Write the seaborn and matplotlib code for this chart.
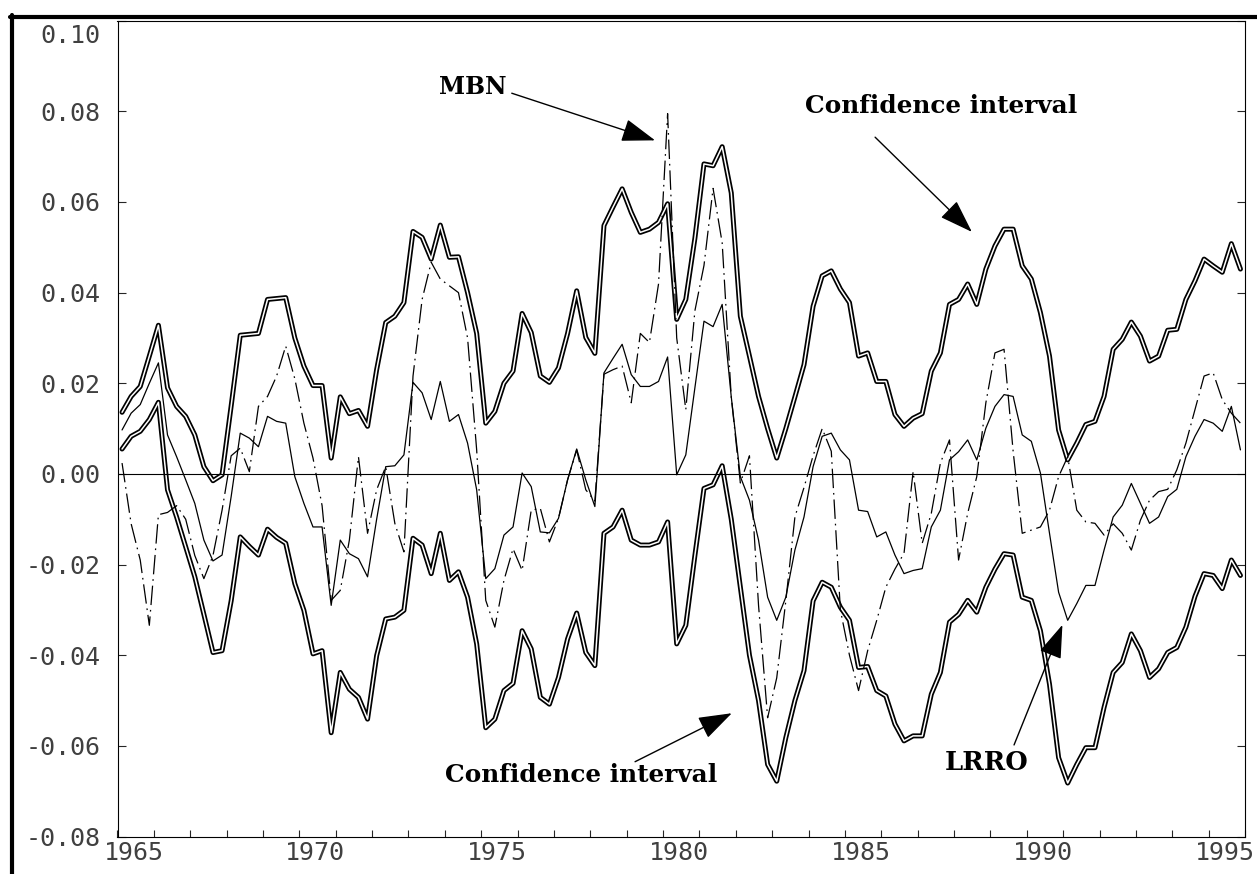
import numpy as np
import pandas as pd
import matplotlib
matplotlib.use('Agg')
import matplotlib.pyplot as plt
import matplotlib.transforms as mtransforms
from matplotlib.lines import Line2D
import seaborn as sns

# quarterly observations 1965Q1 - 1995Q4 (plotted at mid-quarter)
quarters = pd.period_range('1965Q1', '1995Q4', freq='Q')

upper_ci = [
    0.0136, 0.0171, 0.0193, 0.0260, 0.0328, 0.0190, 0.0149, 0.0127, 0.0086, 0.0016,
    -0.0015, -0.0002, 0.0150, 0.0306, 0.0308, 0.0310, 0.0385, 0.0387, 0.0389, 0.0300,
    0.0238, 0.0195, 0.0195, 0.0035, 0.0170, 0.0133, 0.0140, 0.0105, 0.0230, 0.0334,
    0.0348, 0.0378, 0.0535, 0.0522, 0.0474, 0.0549, 0.0478, 0.0479, 0.0400, 0.0310,
    0.0112, 0.0138, 0.0200, 0.0227, 0.0354, 0.0312, 0.0216, 0.0202, 0.0234, 0.0310,
    0.0404, 0.0301, 0.0266, 0.0548, 0.0589, 0.0629, 0.0577, 0.0533, 0.0540, 0.0555,
    0.0596, 0.0341, 0.0385, 0.0520, 0.0684, 0.0680, 0.0722, 0.0620, 0.0348, 0.0260,
    0.0171, 0.0100, 0.0035, 0.0100, 0.0170, 0.0241, 0.0370, 0.0437, 0.0448, 0.0408,
    0.0378, 0.0260, 0.0267, 0.0204, 0.0204, 0.0131, 0.0105, 0.0123, 0.0133, 0.0227,
    0.0267, 0.0374, 0.0385, 0.0419, 0.0374, 0.0452, 0.0503, 0.0540, 0.0540, 0.0459,
    0.0430, 0.0356, 0.0260, 0.0097, 0.0031, 0.0068, 0.0109, 0.0116, 0.0171, 0.0275,
    0.0297, 0.0335, 0.0304, 0.0249, 0.0260, 0.0317, 0.0319, 0.0385, 0.0426, 0.0474,
    0.0459, 0.0445, 0.0508, 0.0452]

lower_ci = [
    0.0055, 0.0083, 0.0094, 0.0120, 0.0158, -0.0035, -0.0095, -0.0161, -0.0227, -0.0310,
    -0.0394, -0.0390, -0.0280, -0.0139, -0.0160, -0.0179, -0.0122, -0.0140, -0.0153, -0.0242,
    -0.0301, -0.0397, -0.0390, -0.0571, -0.0438, -0.0475, -0.0493, -0.0541, -0.0401, -0.0320,
    -0.0316, -0.0301, -0.0142, -0.0157, -0.0220, -0.0131, -0.0235, -0.0216, -0.0272, -0.0375,
    -0.0560, -0.0541, -0.0478, -0.0462, -0.0346, -0.0386, -0.0493, -0.0508, -0.0449, -0.0364,
    -0.0307, -0.0394, -0.0423, -0.0131, -0.0117, -0.0080, -0.0146, -0.0157, -0.0157, -0.0150,
    -0.0106, -0.0375, -0.0334, -0.0180, -0.0032, -0.0024, 0.0018, -0.0100, -0.0250, -0.0400,
    -0.0500, -0.0641, -0.0678, -0.0582, -0.0500, -0.0434, -0.0280, -0.0239, -0.0250, -0.0294,
    -0.0323, -0.0427, -0.0425, -0.0478, -0.0490, -0.0552, -0.0589, -0.0578, -0.0578, -0.0486,
    -0.0438, -0.0327, -0.0310, -0.0279, -0.0305, -0.0250, -0.0210, -0.0176, -0.0179, -0.0272,
    -0.0279, -0.0346, -0.0464, -0.0626, -0.0682, -0.0641, -0.0604, -0.0604, -0.0515, -0.0438,
    -0.0416, -0.0353, -0.0390, -0.0449, -0.0430, -0.0394, -0.0383, -0.0338, -0.0270, -0.0220,
    -0.0224, -0.0253, -0.0190, -0.0224]

lrro = [
    0.0097, 0.0134, 0.0153, 0.0200, 0.0245, 0.0086, 0.0038, -0.0013, -0.0065, -0.0146,
    -0.0192, -0.0179, -0.0050, 0.0090, 0.0079, 0.0060, 0.0127, 0.0116, 0.0112, -0.0006,
    -0.0065, -0.0117, -0.0117, -0.0290, -0.0146, -0.0176, -0.0187, -0.0227, -0.0100, 0.0016,
    0.0018, 0.0042, 0.0202, 0.0179, 0.0120, 0.0204, 0.0116, 0.0131, 0.0068, -0.0035,
    -0.0231, -0.0209, -0.0135, -0.0117, 0.0002, -0.0028, -0.0128, -0.0130, -0.0098, -0.0013,
    0.0055, -0.0013, -0.0072, 0.0223, 0.0255, 0.0286, 0.0219, 0.0193, 0.0193, 0.0204,
    0.0258, -0.0002, 0.0042, 0.0190, 0.0337, 0.0325, 0.0374, 0.0170, -0.0006, -0.0058,
    -0.0146, -0.0272, -0.0323, -0.0272, -0.0168, -0.0095, 0.0016, 0.0083, 0.0090, 0.0053,
    0.0031, -0.0080, -0.0083, -0.0139, -0.0128, -0.0179, -0.0220, -0.0213, -0.0209, -0.0117,
    -0.0080, 0.0031, 0.0049, 0.0075, 0.0031, 0.0101, 0.0149, 0.0175, 0.0171, 0.0086,
    0.0072, 0.0002, -0.0131, -0.0261, -0.0323, -0.0286, -0.0246, -0.0246, -0.0168, -0.0095,
    -0.0069, -0.0021, -0.0065, -0.0109, -0.0095, -0.0050, -0.0034, 0.0038, 0.0083, 0.0120,
    0.0112, 0.0094, 0.0149, 0.0053]

mbn = [
    0.0024, -0.0110, -0.0190, -0.0334, -0.0090, -0.0085, -0.0070, -0.0100, -0.0180, -0.0231,
    -0.0180, -0.0080, 0.0040, 0.0057, 0.0005, 0.0149, 0.0171, 0.0216, 0.0282, 0.0210,
    0.0112, 0.0035, -0.0070, -0.0279, -0.0257, -0.0146, 0.0038, -0.0131, -0.0035, 0.0016,
    -0.0109, -0.0172, 0.0216, 0.0385, 0.0467, 0.0430, 0.0415, 0.0400, 0.0300, 0.0053,
    -0.0279, -0.0338, -0.0235, -0.0165, -0.0213, -0.0080, -0.0076, -0.0150, -0.0098, -0.0013,
    0.0053, -0.0035, -0.0060, 0.0220, 0.0230, 0.0238, 0.0157, 0.0310, 0.0290, 0.0419,
    0.0795, 0.0300, 0.0142, 0.0360, 0.0460, 0.0630, 0.0510, 0.0170, -0.0020, 0.0040,
    -0.0290, -0.0538, -0.0450, -0.0280, -0.0095, -0.0030, 0.0040, 0.0100, 0.0050, -0.0300,
    -0.0400, -0.0478, -0.0390, -0.0323, -0.0250, -0.0210, -0.0175, 0.0005, -0.0153, -0.0087,
    0.0024, 0.0075, -0.0190, -0.0087, -0.0006, 0.0157, 0.0267, 0.0275, 0.0050, -0.0131,
    -0.0124, -0.0117, -0.0080, -0.0006, 0.0038, -0.0080, -0.0106, -0.0109, -0.0135, -0.0110,
    -0.0131, -0.0168, -0.0102, -0.0058, -0.0039, -0.0034, 0.0009, 0.0068, 0.0142, 0.0216,
    0.0223, 0.0164, 0.0134, 0.0112]

y_ticks = [-0.08, -0.06, -0.04, -0.02, 0.00, 0.02, 0.04, 0.06, 0.08, 0.10]
y_tick_labels = ['-0.08', '-0.06', '-0.04', '-0.02', '0.00', '0.02', '0.04', '0.06', '0.08', '0.10']
x_major = [1965, 1970, 1975, 1980, 1985, 1990, 1995]

df = pd.DataFrame({
    'year': quarters.year + (quarters.quarter - 1) * 0.25 + 0.125,
    'upper': upper_ci,
    'lower': lower_ci,
    'LRRO': lrro,
    'MBN': mbn,
})

sns.set_style('white')
plt.rcParams['lines.scale_dashes'] = False
plt.rcParams['font.family'] = ['DejaVu Sans Mono', 'DejaVu Sans']

W, H = 1257, 874
fig = plt.figure(figsize=(W / 100, H / 100), dpi=100)
ax = fig.add_axes([117.5 / W, 1 - 836.5 / H, (1245 - 117.5) / W, (836.5 - 20.7) / H])

# confidence bands drawn as double lines (thick black with white core)
for col in ['upper', 'lower']:
    sns.lineplot(data=df, x='year', y=col, ax=ax, color='black', lw=3.6, estimator=None)
    sns.lineplot(data=df, x='year', y=col, ax=ax, color='white', lw=1.1, estimator=None)

ax.axhline(0, color='black', lw=0.8)
sns.lineplot(data=df, x='year', y='LRRO', ax=ax, color='black', lw=0.9, estimator=None)
sns.lineplot(data=df, x='year', y='MBN', ax=ax, color='black', lw=0.9, estimator=None,
             linestyle=(0, (14, 3.5, 1.2, 3.5)))

ax.set_xlim(1965, 1996)
ax.set_ylim(-0.08, 0.10)
ax.set_xlabel('')
ax.set_ylabel('')

ax.set_yticks(y_ticks)
ax.set_yticklabels(y_tick_labels)
ax.set_xticks(x_major)
ax.set_xticklabels([str(y) for y in x_major])
ax.set_xticks(range(1965, 1997), minor=True)

ax.tick_params(axis='y', which='both', direction='in', length=6, width=0.8,
               left=True, right=True, labelright=False, pad=12,
               labelsize=18, labelcolor='#404040')
ax.tick_params(axis='x', which='both', direction='in', length=5, width=0.8,
               bottom=True, top=False, pad=3, labelsize=18, labelcolor='#404040')
for s in ax.spines.values():
    s.set_linewidth(0.8)
    s.set_color('black')

# x labels sit a little right of their ticks, top y label is pushed down
shift = mtransforms.ScaledTranslation(16 / 100, 0, fig.dpi_scale_trans)
for lbl in ax.xaxis.get_majorticklabels():
    lbl.set_transform(lbl.get_transform() + shift)
down = mtransforms.ScaledTranslation(0, -13 / 100, fig.dpi_scale_trans)
top_lbl = ax.yaxis.get_majorticklabels()[-1]
top_lbl.set_transform(top_lbl.get_transform() + down)

# annotations
note_font = dict(family='DejaVu Serif', weight='bold', color='black', ha='center', va='center')
arrow = dict(arrowstyle='-|>,head_length=1.05,head_width=0.36', mutation_scale=20,
             color='black', lw=1.0, shrinkA=0, shrinkB=0)

ax.text(1974.76, 0.0854, 'MBN', size=17, **note_font)
ax.annotate('', xy=(1979.78, 0.0736), xytext=(1975.84, 0.0840), arrowprops=arrow)

ax.text(1987.64, 0.0812, 'Confidence interval', size=17.8, **note_font)
ax.annotate('', xy=(1988.49, 0.0534), xytext=(1985.83, 0.0743), arrowprops=arrow)

ax.text(1977.74, -0.0664, 'Confidence interval', size=17.8, **note_font)
ax.annotate('', xy=(1981.89, -0.0528), xytext=(1979.23, -0.0635), arrowprops=arrow)

ax.text(1988.89, -0.0637, 'LRRO', size=18.5, **note_font)
ax.annotate('', xy=(1990.98, -0.0333), xytext=(1989.65, -0.0598), arrowprops=arrow)

# heavy page frame on top and left
fig.add_artist(Line2D([10 / W, 1.0], [1 - 16.5 / H, 1 - 16.5 / H], color='black', lw=3.0,
                      transform=fig.transFigure))
fig.add_artist(Line2D([11.5 / W, 11.5 / W], [0.0, 1 - 15 / H], color='black', lw=3.0,
                      transform=fig.transFigure))

fig.savefig('out.png', dpi=100)
